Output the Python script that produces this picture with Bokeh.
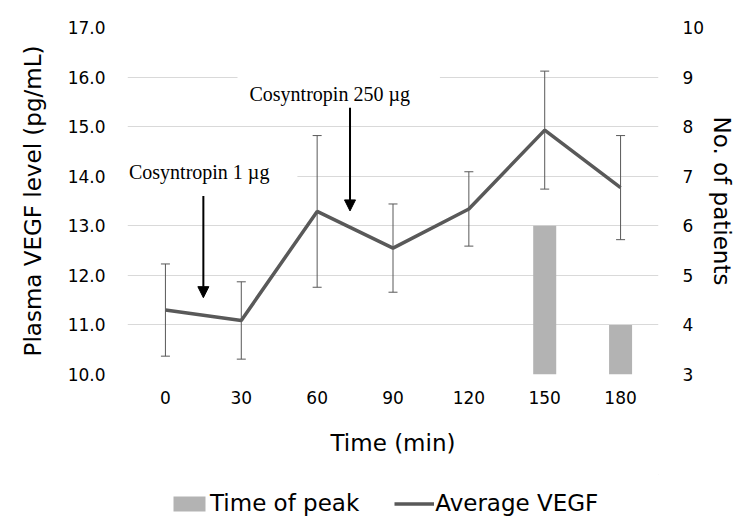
from bokeh.plotting import figure
from bokeh.layouts import column
from bokeh.models import (Range1d, LinearAxis, FixedTicker, NumeralTickFormatter, Whisker,
                          ColumnDataSource, Legend, LegendItem, Arrow, NormalHead, TeeHead, Label)
from bokeh.embed import file_html
from bokeh.resources import INLINE

# ---- data ----
times = [0, 30, 60, 90, 120, 150, 180]
vegf_mean = [11.30, 11.09, 13.29, 12.55, 13.34, 14.93, 13.77]
vegf_sd = [0.93, 0.78, 1.53, 0.89, 0.75, 1.19, 1.05]
peak_counts = [0, 0, 0, 0, 0, 6, 4]
left_ticks = [10, 11, 12, 13, 14, 15, 16, 17]
right_ticks = [3, 4, 5, 6, 7, 8, 9, 10]

FONT = "DejaVu Sans"
SERIF = "Liberation Serif"
LINE_C = "#595959"
BAR_C = "#b3b3b3"
GRID_C = "#d9d9d9"

p = figure(frame_width=531, frame_height=347, output_backend="svg", toolbar_location=None,
           x_range=Range1d(-15, 195), y_range=Range1d(10, 17),
           min_border_left=127, min_border_right=85, min_border_top=27, min_border_bottom=100)
p.outline_line_color = None
p.extra_y_ranges = {"patients": Range1d(3, 10)}

# axes styling
p.xaxis.ticker = FixedTicker(ticks=times)
p.xaxis.axis_label = "Time (min)"
p.yaxis.ticker = FixedTicker(ticks=left_ticks)
p.yaxis.formatter = NumeralTickFormatter(format="0.0")
p.yaxis.axis_label = "Plasma VEGF level (pg/mL)"

raxis = LinearAxis(y_range_name="patients", ticker=FixedTicker(ticks=right_ticks),
                   axis_label="No. of patients")
p.add_layout(raxis, "right")

for ax in [p.xaxis[0], p.yaxis[0], raxis]:
    ax.axis_line_color = None
    ax.major_tick_line_color = None
    ax.minor_tick_line_color = None
    ax.major_tick_out = 0
    ax.major_tick_in = 0
    ax.major_label_text_font = FONT
    ax.major_label_text_font_size = "17px"
    ax.major_label_text_color = "black"
    ax.axis_label_text_font = FONT
    ax.axis_label_text_font_size = "23px"
    ax.axis_label_text_font_style = "normal"
    ax.axis_label_text_color = "black"

p.xaxis.major_label_standoff = 16
p.xaxis.axis_label_standoff = 23
p.yaxis.major_label_standoff = 22
p.yaxis.axis_label_standoff = 19
raxis.major_label_standoff = 24
raxis.axis_label_standoff = 2

p.xgrid.grid_line_color = None
p.ygrid.grid_line_color = GRID_C
p.ygrid.grid_line_width = 1

# bars (secondary axis)
bx = [t for t, c in zip(times, peak_counts) if c > 0]
bc = [c for c in peak_counts if c > 0]
bars = p.vbar(x=bx, top=bc, bottom=3, width=9.1, fill_color=BAR_C, line_color=None,
              y_range_name="patients")

# error bars
src = ColumnDataSource(dict(
    x=times, mean=vegf_mean,
    upper=[m + s for m, s in zip(vegf_mean, vegf_sd)],
    lower=[m - s for m, s in zip(vegf_mean, vegf_sd)]))
wh = Whisker(base="x", upper="upper", lower="lower", source=src,
             line_color=LINE_C, line_width=1,
             upper_head=TeeHead(size=9, line_color=LINE_C, line_width=1),
             lower_head=TeeHead(size=9, line_color=LINE_C, line_width=1))
p.add_layout(wh)

line = p.line("x", "mean", source=src, line_color=LINE_C, line_width=3.5)

# annotations (padding order: left, right, top, bottom)
lab1 = Label(x=-16.0, y=14.08, text="Cosyntropin 1 µg", text_font=SERIF, text_font_size="20px",
             text_baseline="middle", text_align="left", text_color="black",
             background_fill_color="white", padding=(4, 28, 4, 4))
lab2 = Label(x=28.5, y=15.66, text="Cosyntropin 250 µg", text_font=SERIF, text_font_size="20px",
             text_baseline="middle", text_align="left", text_color="black",
             background_fill_color="white", padding=(12, 30, 7, 7))
p.add_layout(lab1)
p.add_layout(lab2)

p.add_layout(Arrow(end=NormalHead(size=11, fill_color="black", line_color="black"),
                   x_start=15, y_start=13.60, x_end=15, y_end=11.55,
                   line_color="black", line_width=2))
p.add_layout(Arrow(end=NormalHead(size=11, fill_color="black", line_color="black"),
                   x_start=73, y_start=15.38, x_end=73, y_end=13.30,
                   line_color="black", line_width=2))

# legend strip below the chart; its glyphs copy the chart's series styles
# (the sample renderers sit outside the strip's visible range)
lf = figure(width=743, height=54, output_backend="svg", toolbar_location=None,
            x_range=Range1d(0, 1), y_range=Range1d(0, 1),
            x_axis_location=None, y_axis_location=None, min_border=0)
lf.outline_line_color = None
lf.grid.visible = False
lbar = lf.vbar(x=[5], top=[6], bottom=5, width=0.1, fill_color=BAR_C, line_color=None)
lline = lf.line(x=[5, 6], y=[5, 6], line_color=LINE_C, line_width=3.5)

legend = Legend(items=[LegendItem(label="Time of peak", renderers=[lbar]),
                       LegendItem(label="Average VEGF", renderers=[lline])],
                orientation="horizontal", location=(42, 11),
                label_text_font=FONT, label_text_font_size="23px", label_text_color="black",
                label_height=28,
                glyph_width=40, glyph_height=19, label_standoff=1, spacing=35,
                border_line_color=None, background_fill_alpha=0, margin=0, padding=0)
lf.add_layout(legend)

layout = column(p, lf, spacing=0)
open("out.html", "w").write(file_html(layout, INLINE))
